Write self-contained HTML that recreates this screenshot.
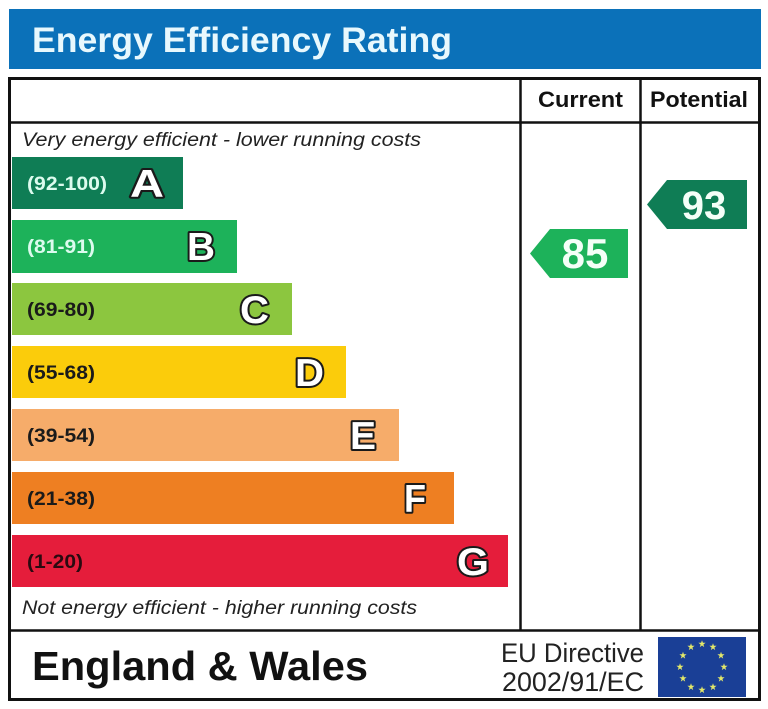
<!DOCTYPE html>
<html><head><meta charset="utf-8">
<style>
html,body{margin:0;padding:0;background:#fff;}
svg{display:block;font-family:"Liberation Sans",Arial,Helvetica,sans-serif;}
svg text{font-family:"Liberation Sans",Arial,Helvetica,sans-serif;}
</style></head>
<body>
<svg width="768" height="709" viewBox="0 0 768 709" xmlns="http://www.w3.org/2000/svg" font-family="Liberation Sans, Arial, Helvetica, sans-serif">
<rect x="0" y="0" width="768" height="709" fill="#fff"/>
<!-- header -->
<rect x="9" y="9" width="752" height="60" fill="#0b71b9"/>
<text x="32" y="52" font-size="35" font-weight="bold" fill="#e8f8fd" textLength="420" lengthAdjust="spacingAndGlyphs">Energy Efficiency Rating</text>

<!-- table -->
<rect x="9.5" y="78.5" width="750" height="621" fill="none" stroke="#111" stroke-width="3"/>
<line x1="9" y1="122.5" x2="760" y2="122.5" stroke="#111" stroke-width="2.5"/>
<line x1="520.5" y1="78" x2="520.5" y2="630" stroke="#111" stroke-width="2.5"/>
<line x1="640.5" y1="78" x2="640.5" y2="630" stroke="#111" stroke-width="2.5"/>
<line x1="9" y1="630.5" x2="760" y2="630.5" stroke="#111" stroke-width="2.5"/>

<text x="538" y="107" font-size="22" font-weight="bold" fill="#111" textLength="85" lengthAdjust="spacingAndGlyphs">Current</text>
<text x="650" y="107" font-size="22" font-weight="bold" fill="#111" textLength="98" lengthAdjust="spacingAndGlyphs">Potential</text>

<text x="22" y="146" font-size="19" font-style="italic" fill="#222" textLength="399" lengthAdjust="spacingAndGlyphs">Very energy efficient - lower running costs</text>
<text x="22" y="614" font-size="19" font-style="italic" fill="#222" textLength="395" lengthAdjust="spacingAndGlyphs">Not energy efficient - higher running costs</text>

<!-- bars -->
<g font-weight="bold">
<rect x="12" y="157" width="171" height="52" fill="#0f7d55"/>
<text x="27" y="190" font-size="19" fill="#dcfbee" textLength="80" lengthAdjust="spacingAndGlyphs">(92-100)</text>
<text x="130" y="197" font-size="39" fill="#fff" stroke="#1a1a1a" stroke-width="4" stroke-linejoin="round" paint-order="stroke" textLength="34" lengthAdjust="spacingAndGlyphs">A</text>

<rect x="12" y="220" width="225" height="53" fill="#1db25a"/>
<text x="27" y="253" font-size="19" fill="#dcfbee" textLength="68" lengthAdjust="spacingAndGlyphs">(81-91)</text>
<text x="187" y="260" font-size="39" fill="#fff" stroke="#1a1a1a" stroke-width="4" stroke-linejoin="round" paint-order="stroke" textLength="28" lengthAdjust="spacingAndGlyphs">B</text>

<rect x="12" y="283" width="280" height="52" fill="#8cc63f"/>
<text x="27" y="316" font-size="19" fill="#1a1a1a" textLength="68" lengthAdjust="spacingAndGlyphs">(69-80)</text>
<text x="240" y="323" font-size="39" fill="#fff" stroke="#1a1a1a" stroke-width="4" stroke-linejoin="round" paint-order="stroke" textLength="29" lengthAdjust="spacingAndGlyphs">C</text>

<rect x="12" y="346" width="334" height="52" fill="#fbcc0b"/>
<text x="27" y="379" font-size="19" fill="#1a1a1a" textLength="68" lengthAdjust="spacingAndGlyphs">(55-68)</text>
<text x="295" y="386" font-size="39" fill="#fff" stroke="#1a1a1a" stroke-width="4" stroke-linejoin="round" paint-order="stroke" textLength="29" lengthAdjust="spacingAndGlyphs">D</text>

<rect x="12" y="409" width="387" height="52" fill="#f6ac6a"/>
<text x="27" y="442" font-size="19" fill="#1a1a1a" textLength="68" lengthAdjust="spacingAndGlyphs">(39-54)</text>
<text x="350" y="449" font-size="39" fill="#fff" stroke="#1a1a1a" stroke-width="4" stroke-linejoin="round" paint-order="stroke" textLength="26" lengthAdjust="spacingAndGlyphs">E</text>

<rect x="12" y="472" width="442" height="52" fill="#ee7f22"/>
<text x="27" y="505" font-size="19" fill="#1a1a1a" textLength="68" lengthAdjust="spacingAndGlyphs">(21-38)</text>
<text x="404" y="512" font-size="39" fill="#fff" stroke="#1a1a1a" stroke-width="4" stroke-linejoin="round" paint-order="stroke" textLength="22" lengthAdjust="spacingAndGlyphs">F</text>

<rect x="12" y="535" width="496" height="52" fill="#e51d3b"/>
<text x="27" y="568" font-size="19" fill="#2a0a10" textLength="56" lengthAdjust="spacingAndGlyphs">(1-20)</text>
<text x="457" y="575" font-size="39" fill="#fff" stroke="#1a1a1a" stroke-width="4" stroke-linejoin="round" paint-order="stroke" textLength="32" lengthAdjust="spacingAndGlyphs">G</text>
</g>

<!-- arrows -->
<polygon points="530,253.5 550,229 628,229 628,278 550,278" fill="#1db25a"/>
<text x="585" y="268" font-size="42" font-weight="bold" fill="#f4fff8" text-anchor="middle">85</text>
<polygon points="647,204.5 667,180 747,180 747,229 667,229" fill="#0f7d55"/>
<text x="704" y="219" font-size="40" font-weight="bold" fill="#f4fff8" text-anchor="middle">93</text>

<!-- footer -->
<text x="32" y="680" font-size="41" font-weight="bold" fill="#111" textLength="336" lengthAdjust="spacingAndGlyphs">England &amp; Wales</text>
<text x="501" y="662" font-size="27" fill="#222" textLength="143" lengthAdjust="spacingAndGlyphs">EU Directive</text>
<text x="502" y="691" font-size="27" fill="#222" textLength="142" lengthAdjust="spacingAndGlyphs">2002/91/EC</text>

<rect x="658" y="637" width="88" height="60" fill="#1a3f96"/>
<g fill="#e3e86a">
<polygon points="0,-3.8 0.9,-1.2 3.6,-1.2 1.4,0.5 2.2,3.1 0,1.5 -2.2,3.1 -1.4,0.5 -3.6,-1.2 -0.9,-1.2" transform="translate(702,644)"/>
<polygon points="0,-3.8 0.9,-1.2 3.6,-1.2 1.4,0.5 2.2,3.1 0,1.5 -2.2,3.1 -1.4,0.5 -3.6,-1.2 -0.9,-1.2" transform="translate(713,647)"/>
<polygon points="0,-3.8 0.9,-1.2 3.6,-1.2 1.4,0.5 2.2,3.1 0,1.5 -2.2,3.1 -1.4,0.5 -3.6,-1.2 -0.9,-1.2" transform="translate(721,655.5)"/>
<polygon points="0,-3.8 0.9,-1.2 3.6,-1.2 1.4,0.5 2.2,3.1 0,1.5 -2.2,3.1 -1.4,0.5 -3.6,-1.2 -0.9,-1.2" transform="translate(724,667)"/>
<polygon points="0,-3.8 0.9,-1.2 3.6,-1.2 1.4,0.5 2.2,3.1 0,1.5 -2.2,3.1 -1.4,0.5 -3.6,-1.2 -0.9,-1.2" transform="translate(721,678.5)"/>
<polygon points="0,-3.8 0.9,-1.2 3.6,-1.2 1.4,0.5 2.2,3.1 0,1.5 -2.2,3.1 -1.4,0.5 -3.6,-1.2 -0.9,-1.2" transform="translate(713,687)"/>
<polygon points="0,-3.8 0.9,-1.2 3.6,-1.2 1.4,0.5 2.2,3.1 0,1.5 -2.2,3.1 -1.4,0.5 -3.6,-1.2 -0.9,-1.2" transform="translate(702,690)"/>
<polygon points="0,-3.8 0.9,-1.2 3.6,-1.2 1.4,0.5 2.2,3.1 0,1.5 -2.2,3.1 -1.4,0.5 -3.6,-1.2 -0.9,-1.2" transform="translate(691,687)"/>
<polygon points="0,-3.8 0.9,-1.2 3.6,-1.2 1.4,0.5 2.2,3.1 0,1.5 -2.2,3.1 -1.4,0.5 -3.6,-1.2 -0.9,-1.2" transform="translate(683,678.5)"/>
<polygon points="0,-3.8 0.9,-1.2 3.6,-1.2 1.4,0.5 2.2,3.1 0,1.5 -2.2,3.1 -1.4,0.5 -3.6,-1.2 -0.9,-1.2" transform="translate(680,667)"/>
<polygon points="0,-3.8 0.9,-1.2 3.6,-1.2 1.4,0.5 2.2,3.1 0,1.5 -2.2,3.1 -1.4,0.5 -3.6,-1.2 -0.9,-1.2" transform="translate(683,655.5)"/>
<polygon points="0,-3.8 0.9,-1.2 3.6,-1.2 1.4,0.5 2.2,3.1 0,1.5 -2.2,3.1 -1.4,0.5 -3.6,-1.2 -0.9,-1.2" transform="translate(691,647)"/>
</g>
</svg>
</body></html>
